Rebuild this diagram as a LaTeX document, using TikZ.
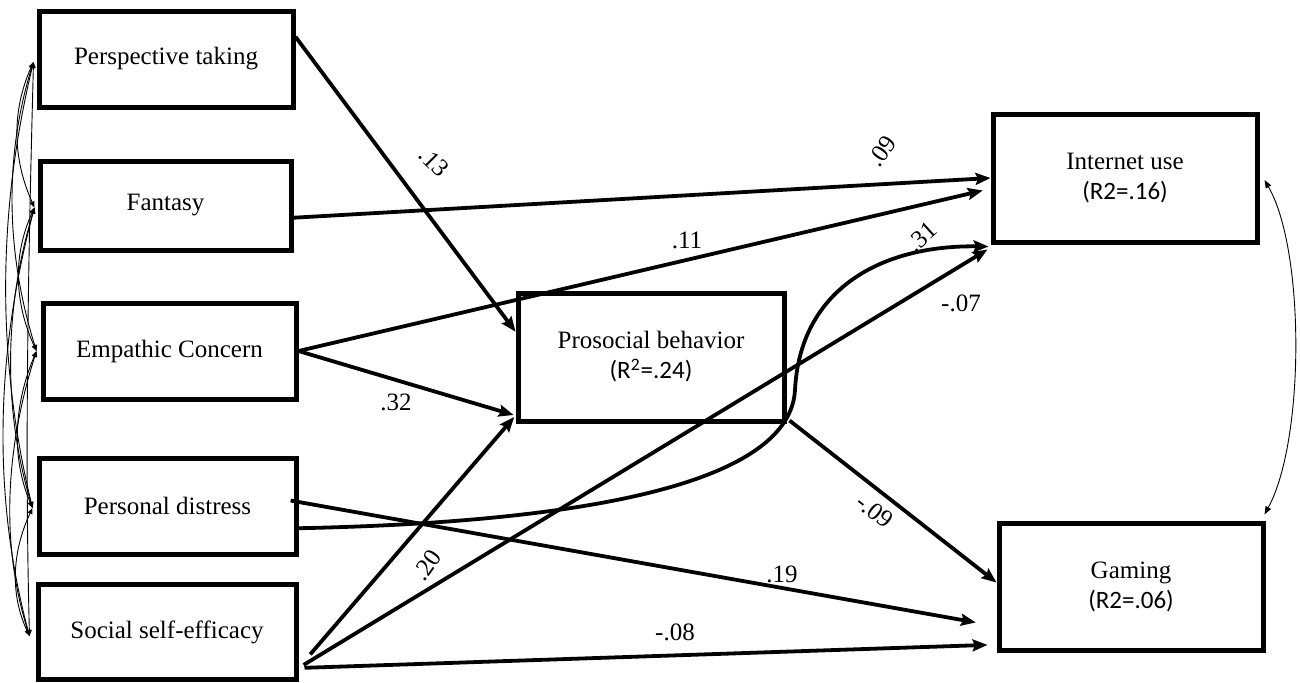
\documentclass[tikz,border=0pt]{standalone}
\usepackage{fontspec}
\setmainfont{Liberation Serif}
\newfontfamily\calfont{Carlito}
\usetikzlibrary{arrows.meta,calc}
\newcommand\tnr{\fontsize{12.5}{15}\selectfont}
\tikzset{
  box/.style={draw, line width=2.5pt, inner sep=0pt, font=\tnr, align=center},
  pathar/.style={line width=1.9pt, -{Stealth[length=7.5pt,width=6pt,inset=1.2pt]}},
  cov/.style={line width=0.45pt, {Triangle[length=3pt,width=2.4pt]}-{Triangle[length=3pt,width=2.4pt]}},
  lab/.style={font=\tnr, inner sep=0pt},
}
\begin{document}
\begin{tikzpicture}[x=0.5pt,y=0.5pt]
\useasboundingbox (0,0) rectangle (1300,-682);
% boxes
\node[box, minimum width=127pt, minimum height=48pt] (pt) at (166,-59) {Perspective taking};
\node[box, minimum width=125.5pt, minimum height=44.5pt] (fa) at (165.5,-205.5) {Fantasy};
\node[box, minimum width=126.5pt, minimum height=48pt] (ec) at (169.5,-351) {Empathic Concern};
\node[box, minimum width=128.5pt, minimum height=48pt] (pd) at (167.5,-506) {Personal distress};
\node[box, minimum width=129pt, minimum height=47.5pt] (sse) at (167,-632) {Social self-efficacy};
\node[box, minimum width=133pt, minimum height=64pt] (pb) at (651,-357) {Prosocial behavior\\{\calfont (R\textsuperscript{2}=.24)}};
\node[box, minimum width=132pt, minimum height=64pt] (iu) at (1125,-178) {Internet use\\{\calfont (R2=.16)}};
\node[box, minimum width=132pt, minimum height=63.5pt] (ga) at (1131,-586.5) {Gaming\\{\calfont (R2=.06)}};

% anchor coordinates
\coordinate (ptA) at ($(pt.north east)!0.28!(pt.south east)$);
\coordinate (faA) at ($(fa.north east)!0.63!(fa.south east)$);
\coordinate (pdA) at ($(pd.north east)!0.72!(pd.south east)$);
\coordinate (pdB) at ($(pd.north east)!0.46!(pd.south east)$);
\coordinate (sseA) at ($(sse.north east)!0.86!(sse.south east)$);
\coordinate (pbA) at ($(pb.north west)!0.31!(pb.south west)$);
\coordinate (pbB) at ($(pb.north west)!0.94!(pb.south west)$);
\coordinate (iuA) at ($(iu.north west)!0.58!(iu.south west)$);
\coordinate (gaA) at ($(ga.north west)!0.94!(ga.south west)$);
\coordinate (gaB) at ($(ga.north west)!0.8!(ga.south west)$);
\coordinate (gaC) at ($(ga.north west)!0.47!(ga.south west)$);

% paths
\draw[pathar] (ptA) -- (pbA);
\draw[pathar] (faA) -- (iu.west);
\draw[pathar, shorten >=4pt] (ec.east) -- (iuA);
\draw[pathar, shorten >=1pt] (ec.east) -- (pbB);
\draw[pathar] (pdA) .. controls (600,-522) and (790,-480) .. (795,-390)
  .. controls (800,-290) and (880,-245) .. ([xshift=-1pt,yshift=-1pt]iu.south west);
\draw[pathar, shorten <=3pt] (sseA) -- ([xshift=-1.5pt,yshift=-2.5pt]iu.south west);
\draw[pathar, shorten <=9pt, shorten >=1pt] (sseA) -- (pbB);
\draw[pathar, shorten <=3pt, shorten >=4.5pt] (sseA) -- (gaA);
\draw[pathar, shorten <=-4pt, shorten >=10.5pt] (pdB) -- (gaB);
\draw[pathar] ([xshift=1.5pt,yshift=1.5pt]pb.south east) -- (gaC);
\draw[line width=0.45pt, {Triangle[length=4pt,width=3pt]}-{Triangle[length=4pt,width=3pt]}]
  ([xshift=2.5pt,yshift=-1pt]iu.east) .. controls (1305,-250) and (1305,-440) .. ([xshift=-0.5pt,yshift=3pt]ga.north east);

% covariances
\coordinate (k1) at ([xshift=-1.5pt,yshift=-1.5pt]pt.west);
\coordinate (k2) at ([xshift=-1.5pt,yshift=-1pt]fa.west);
\coordinate (k3) at ([xshift=-2pt]ec.west);
\coordinate (k4) at ([xshift=-2pt,yshift=-1pt]pd.west);
\coordinate (k5) at ([xshift=-3pt,yshift=-2pt]sse.west);
\draw[cov] (k1) .. controls +(-22,-49) and +(-22,49) .. (k2);
\draw[cov] (k2) .. controls +(-22,-48) and +(-22,48) .. (k3);
\draw[cov] (k3) .. controls +(-22,-52) and +(-22,52) .. (k4);
\draw[cov] (k4) .. controls +(-20,-43) and +(-20,43) .. (k5);
\draw[cov] (k1) .. controls +(-30,-96) and +(-30,96) .. (k3);
\draw[cov] (k2) .. controls +(-30,-100) and +(-30,100) .. (k4);
\draw[cov] (k3) .. controls +(-30,-95) and +(-30,95) .. (k5);
\draw[cov] (k1) .. controls +(-36,-150) and +(-36,150) .. (k4);
\draw[cov] (k2) .. controls +(-38,-143) and +(-38,143) .. (k5);
\draw[cov] (k1) .. controls +(-5,-190) and +(-5,190) .. (k5);

% labels
\node[lab, rotate=-45] (l13) at (434,-162) {.13};
\node[lab, rotate=55] (l09) at (882,-151) {.09};
\node[lab] (l11) at (687,-240) {.11};
\node[lab] (l32) at (396,-402) {.32};
\node[lab, rotate=42] (l31) at (922,-237) {.31};
\node[lab] (l07) at (961,-303) {-.07};
\node[lab, rotate=55] (l20) at (427,-565) {.20};
\node[lab] (l08) at (675,-632) {-.08};
\node[lab] (l19) at (782,-574) {.19};
\node[lab, rotate=-38] (l09b) at (875,-511) {-.09};
\end{tikzpicture}
\end{document}
